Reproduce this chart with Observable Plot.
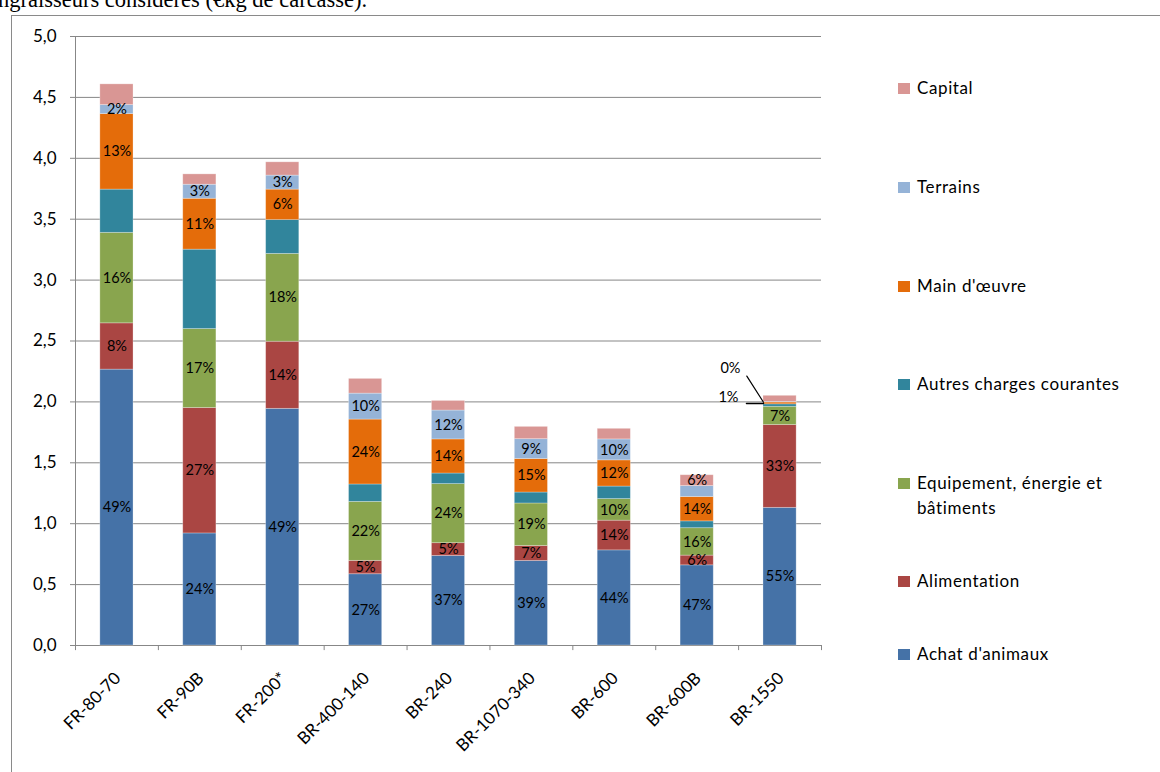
<!DOCTYPE html>
<html>
<head>
<meta charset="utf-8">
<script src="https://cdn.jsdelivr.net/npm/d3@7"></script>
<script src="https://cdn.jsdelivr.net/npm/@observablehq/plot@0.6"></script>
<style>
  html, body { margin: 0; padding: 0; background: #fff; }
  #page { position: relative; width: 1160px; height: 772px; overflow: hidden; background: #fff; font-family: Lato, sans-serif; }
  #lead { position: absolute; left: -12px; top: -11px; font-family: "Liberation Serif", serif; font-size: 22.5px; line-height: 22px; white-space: nowrap; color: #000; }
  #frame { position: absolute; left: 11px; top: 15px; width: 1300px; height: 900px; border: 1px solid #8a8a8a; box-sizing: border-box; }
  #chart { position: absolute; left: 0; top: 0; }
  .item { position: absolute; left: 898px; display: flex; align-items: flex-start; font-size: 17px; line-height: 25px; letter-spacing: 0.6px; color: #000; }
  .sw { width: 12px; height: 11px; margin-top: 7.5px; margin-right: 7px; flex: none; }
  .lab { max-width: 225px; }
</style>
</head>
<body>
<div id="page">
  <div id="frame"></div>
  <div id="lead">engraisseurs considérés (€kg de carcasse).</div>
  <div id="chart"></div>
  <div id="legend"></div>
</div>
<script>
// Exploitations (ateliers d'engraissement)
const categories = ["FR-80-70", "FR-90B", "FR-200*", "BR-400-140", "BR-240", "BR-1070-340", "BR-600", "BR-600B", "BR-1550"];

// Postes de coût, du bas vers le haut de la pile
const seriesNames = ["Achat d'animaux", "Alimentation", "Equipement, énergie et bâtiments", "Autres charges courantes", "Main d'œuvre", "Terrains", "Capital"];
const seriesColors = ["#4572A7", "#AA4643", "#89A54E", "#31859C", "#E46C0A", "#95B3D7", "#D99694"];

// Coût par poste (€/kg de carcasse)
const achatAnimaux  = [2.265, 0.920, 1.943, 0.585, 0.735, 0.694, 0.781, 0.658, 1.130];
const alimentation  = [0.380, 1.030, 0.551, 0.110, 0.105, 0.123, 0.244, 0.080, 0.680];
const equipement    = [0.743, 0.648, 0.721, 0.484, 0.485, 0.349, 0.177, 0.225, 0.150];
const autresCharges = [0.355, 0.652, 0.278, 0.143, 0.087, 0.090, 0.103, 0.056, 0.020];
const mainOeuvre    = [0.620, 0.418, 0.250, 0.533, 0.280, 0.275, 0.215, 0.200, 0.015];
const terrains      = [0.074, 0.115, 0.115, 0.213, 0.237, 0.163, 0.172, 0.090, 0.005];
const capital       = [0.170, 0.085, 0.109, 0.121, 0.079, 0.101, 0.087, 0.089, 0.050];

// Part affichée : 1 = étiquette dans le segment, 2 = étiquette à côté de la barre, 0 = aucune
const labelAchat    = [1, 1, 1, 1, 1, 1, 1, 1, 1];
const labelAlim     = [1, 1, 1, 1, 1, 1, 1, 1, 1];
const labelEquip    = [1, 1, 1, 1, 1, 1, 1, 1, 1];
const labelAutres   = [0, 0, 0, 0, 0, 0, 0, 0, 0];
const labelMain     = [1, 1, 1, 1, 1, 1, 1, 1, 2];
const labelTerrains = [1, 1, 1, 1, 1, 1, 1, 0, 2];
const labelCapital  = [0, 0, 0, 0, 0, 0, 0, 1, 0];

const yTicks = [0, 0.5, 1, 1.5, 2, 2.5, 3, 3.5, 4, 4.5, 5];

const seriesValues = [achatAnimaux, alimentation, equipement, autresCharges, mainOeuvre, terrains, capital];
const seriesLabels = [labelAchat, labelAlim, labelEquip, labelAutres, labelMain, labelTerrains, labelCapital];

// Table longue pour l'empilement
const totals = categories.map((_, i) => d3.sum(seriesValues, s => s[i]));
const rows = [];
categories.forEach((cat, i) => {
  seriesNames.forEach((name, s) => {
    rows.push({cat, series: name, value: seriesValues[s][i], label: seriesLabels[s][i], total: totals[i]});
  });
});
const share = d => Math.round(d.value / d.total * 100) + "%";

// Étiquettes placées à côté de la barre : milieu du segment calculé depuis la pile
const callouts = [];
categories.forEach((cat, i) => {
  let base = 0;
  seriesNames.forEach((name, s) => {
    const v = seriesValues[s][i];
    if (seriesLabels[s][i] === 2) callouts.push({cat, series: name, mid: base + v / 2, text: share({value: v, total: totals[i]})});
    base += v;
  });
});
const calloutMain = callouts.filter(d => d.series === "Main d'œuvre");
const calloutTerrains = callouts.filter(d => d.series === "Terrains");

const width = 840, height = 772;
const marginLeft = 75, marginRight = 19, marginTop = 36, marginBottom = 127;
const step = (width - marginLeft - marginRight) / categories.length;
const barHalf = step * 0.4 / 2;
const axisGray = "#878787";

const chart = Plot.plot({
  width, height, marginLeft, marginRight, marginTop, marginBottom,
  style: {fontFamily: "Lato, sans-serif", fontSize: "17px", background: "transparent", color: "#000"},
  x: {domain: categories, paddingInner: 0.6, paddingOuter: 0.3, round: false, label: null},
  y: {domain: [0, 5], label: null},
  color: {domain: seriesNames, range: seriesColors},
  marks: [
    Plot.ruleY(yTicks, {stroke: axisGray, strokeWidth: 1}),
    // axe vertical et graduations de l'axe horizontal entre les catégories
    Plot.ruleX(categories.slice(0, 1), {x: d => d, dx: -step / 2, y1: 0, y2: 5, stroke: axisGray}),
    Plot.ruleX(categories, {x: d => d, dx: -step / 2, y1: 0, y2: -0.042, stroke: axisGray}),
    Plot.ruleX(categories.slice(-1), {x: d => d, dx: step / 2, y1: 0, y2: -0.042, stroke: axisGray}),
    Plot.axisY(yTicks, {tickFormat: d => d.toFixed(1).replace(".", ","), tickSize: 5, tickPadding: 14, stroke: axisGray, fill: "#000", fontSize: 17}),
    Plot.axisX({tickRotate: -45, tickSize: 0, tickPadding: 30, textAnchor: "end", lineAnchor: "middle", dx: 1, fontSize: 17, fill: "#000"}),
    Plot.barY(rows, {x: "cat", y: "value", fill: "series", stroke: "#fff", strokeOpacity: 0.35, strokeWidth: 0.8}),
    Plot.text(rows, Plot.stackY({x: "cat", y: "value", text: d => d.label === 1 ? share(d) : null, fontSize: 14.5, fill: "#000"})),
    // étiquettes déportées et traits de rappel
    Plot.vector(calloutMain, {x: "cat", y: "mid", dx: -barHalf, anchor: "start", length: 17, rotate: -90, r: 0, stroke: "#000", strokeWidth: 1.5}),
    Plot.text(calloutMain, {x: "cat", y: "mid", text: "text", textAnchor: "end", dx: -(barHalf + 25), dy: -6, fontSize: 14.5, fill: "#000"}),
    Plot.vector(calloutTerrains, {x: "cat", y: "mid", dx: -barHalf, anchor: "start", length: 31, rotate: -32.5, r: 0, stroke: "#000", strokeWidth: 1.2}),
    Plot.text(calloutTerrains, {x: "cat", y: "mid", text: "text", textAnchor: "end", dx: -(barHalf + 23), dy: -34, fontSize: 14.5, fill: "#000"})
  ]
});
document.getElementById("chart").appendChild(chart);

// Légende (ordre inverse de la pile)
const legendCenters = [654, 581, 483, 384, 286, 187, 88];
const legend = document.getElementById("legend");
seriesNames.forEach((name, s) => {
  const item = document.createElement("div");
  item.className = "item";
  item.style.top = (legendCenters[s] - 13) + "px";
  const sw = document.createElement("div");
  sw.className = "sw";
  sw.style.background = seriesColors[s];
  const lab = document.createElement("div");
  lab.className = "lab";
  lab.textContent = name;
  item.appendChild(sw);
  item.appendChild(lab);
  legend.appendChild(item);
});
</script>
</body>
</html>
